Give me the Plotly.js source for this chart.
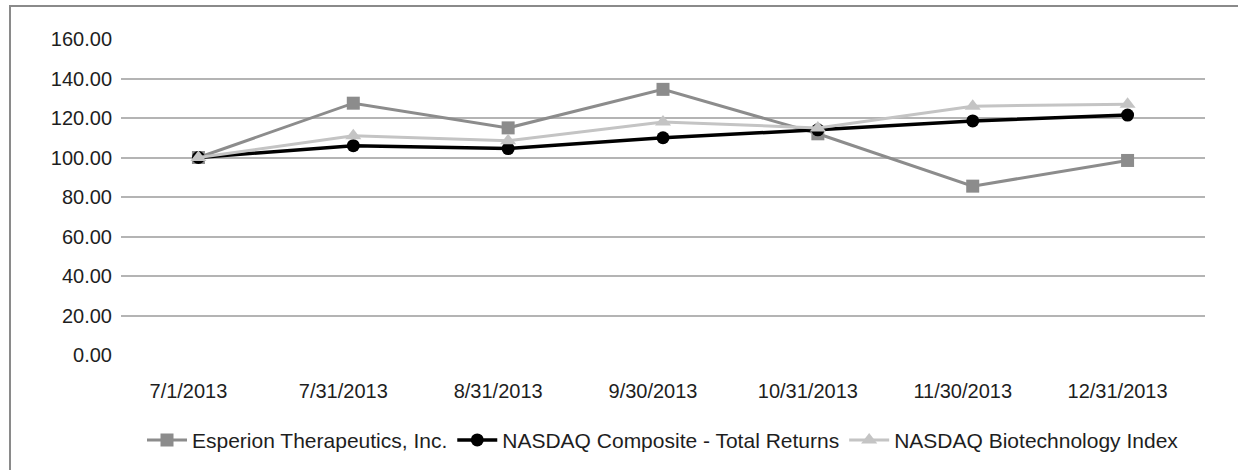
<!DOCTYPE html>
<html>
<head>
<meta charset="utf-8">
<script src="https://cdn.plot.ly/plotly-3.0.1.min.js"></script>
<style>
html,body{margin:0;padding:0;background:#fff;}
#wrap{position:relative;width:1238px;height:470px;overflow:hidden;}
#chart{position:absolute;left:0;top:0;width:1238px;height:470px;}
#frame{position:absolute;left:9px;top:5px;width:1300px;height:600px;border-left:2px solid #8a8a8a;border-top:2px solid #8a8a8a;pointer-events:none;}
</style>
</head>
<body>
<div id="wrap"><div id="chart"></div><div id="frame"></div></div>
<script>
const categories = ["7/1/2013","7/31/2013","8/31/2013","9/30/2013","10/31/2013","11/30/2013","12/31/2013"];
const esperion = [100.00, 127.50, 115.00, 134.50, 112.00, 85.50, 98.50];
const nasdaqComposite = [100.00, 106.00, 104.50, 110.00, 114.00, 118.50, 121.50];
const nasdaqBiotech = [100.00, 111.00, 108.50, 118.00, 115.00, 126.00, 127.00];
const seriesNames = ["Esperion Therapeutics, Inc.", "NASDAQ Composite - Total Returns", "NASDAQ Biotechnology Index"];
const yTicks = [0,20,40,60,80,100,120,140,160];

const traces = [
  {x: categories, y: esperion, name: seriesNames[0], type: "scatter", mode: "lines+markers",
   line: {color: "#8c8c8c", width: 3}, marker: {symbol: "square", size: 13, color: "#8c8c8c"}},
  {x: categories, y: nasdaqComposite, name: seriesNames[1], type: "scatter", mode: "lines+markers",
   line: {color: "#000000", width: 3.5}, marker: {symbol: "circle", size: 13, color: "#000000"}},
  {x: categories, y: nasdaqBiotech, name: seriesNames[2], type: "scatter", mode: "lines+markers",
   line: {color: "#c4c4c4", width: 3}, marker: {symbol: "triangle-up", size: 14, color: "#c4c4c4"}}
];

const layout = {
  width: 1238, height: 470,
  paper_bgcolor: "#ffffff", plot_bgcolor: "#ffffff",
  margin: {l: 121, r: 33, t: 39, b: 115, autoexpand: false},
  font: {family: "Liberation Sans, Arial, sans-serif", size: 20, color: "#1e1e1e"},
  showlegend: true,
  legend: {orientation: "h", x: 0.5, xanchor: "center", y: -0.27, yanchor: "middle",
           font: {size: 21, color: "#1e1e1e"}, itemwidth: 40, tracegroupgap: 0},
  xaxis: {type: "category", categoryorder: "array", categoryarray: categories,
          range: [-0.5, 6.5], showgrid: false, zeroline: false, showline: false,
          ticks: "", ticklabelstandoff: 22, ticklabelshift: -10,
          tickfont: {size: 20, color: "#1e1e1e"}, fixedrange: true},
  yaxis: {range: [0, 160], tickvals: yTicks, tickformat: ".2f", showgrid: true,
          gridcolor: "#b4b4b4", gridwidth: 2, zeroline: false, showline: false,
          ticks: "", ticklabelstandoff: 8, tickfont: {size: 20, color: "#1e1e1e"}, fixedrange: true}
};

Plotly.newPlot("chart", traces, layout, {displayModeBar: false, staticPlot: true});
</script>
</body>
</html>
